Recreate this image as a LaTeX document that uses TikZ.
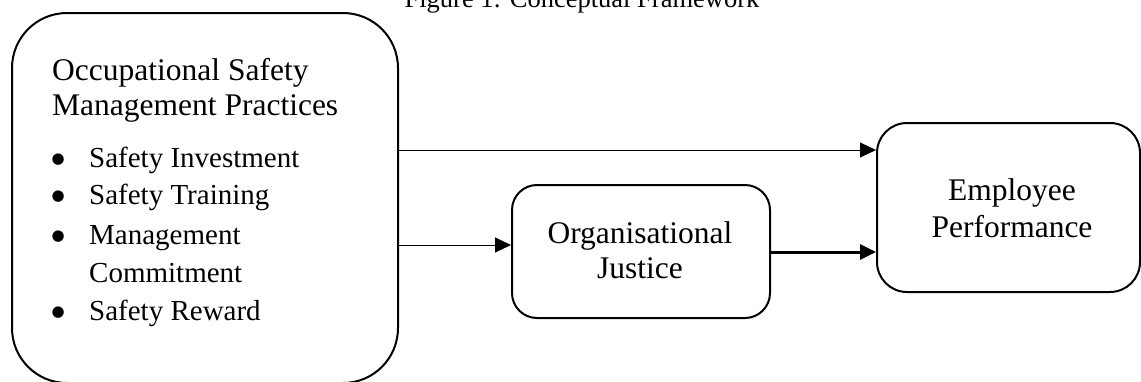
\documentclass[tikz,border=0pt]{standalone}
\usepackage{fontspec}
\setmainfont{Liberation Serif}
\newfontfamily\symfont{DejaVu Sans}
\usetikzlibrary{arrows.meta}
\newcommand{\bulletmark}{\makebox[0pt][c]{\raisebox{3.5pt}{\symfont\fontsize{15}{18}\selectfont ●}}\hspace*{31pt}}
\begin{document}
\begin{tikzpicture}[x=1pt,y=-1pt,
  boxstyle/.style={draw=black,line width=2pt,fill=none,inner sep=0pt},
  headtext/.style={inner sep=0pt,font=\fontsize{31.5}{36}\selectfont},
  itemtext/.style={inner sep=0pt,font=\fontsize{29}{34}\selectfont},
  titletext/.style={inner sep=0pt,font=\fontsize{26.5}{30}\selectfont},
  thinarrow/.style={line width=1pt,-{Triangle[length=16pt,width=15pt]}},
  thickarrow/.style={line width=3pt,-{Triangle[length=16pt,width=15pt]}}]
\useasboundingbox (0,0) rectangle (1141,381);
% title
\node[titletext,anchor=base] (title) at (582,7) {Figure 1: Conceptual Framework};
% boxes
\node[boxstyle,rounded corners=55pt,minimum width=386pt,minimum height=370pt] (osmp) at (205,198) {};
\node[boxstyle,rounded corners=25pt,minimum width=258pt,minimum height=133pt] (oj) at (641,251.5) {};
\node[boxstyle,rounded corners=30pt,minimum width=263pt,minimum height=169pt] (ep) at (1008.5,207.5) {};
% left box text
\node[headtext,anchor=base west] (h1) at (52,80) {Occupational Safety};
\node[headtext,anchor=base west] (h2) at (52,115) {Management Practices};
\node[itemtext,anchor=base west] (i1) at (58,167) {\bulletmark Safety Investment};
\node[itemtext,anchor=base west] (i2) at (58,204) {\bulletmark Safety Training};
\node[itemtext,anchor=base west] (i3) at (58,244) {\bulletmark Management};
\node[itemtext,anchor=base west] (i3b) at (89,282) {Commitment};
\node[itemtext,anchor=base west] (i4) at (58,320) {\bulletmark Safety Reward};
% middle text
\node[headtext,anchor=base] (oj1) at (640,243) {Organisational};
\node[headtext,anchor=base] (oj2) at (640,278) {Justice};
% right text
\node[headtext,anchor=base] (ep1) at (1012,200) {Employee};
\node[headtext,anchor=base] (ep2) at (1012,237) {Performance};
% connectors
\coordinate (ya) at (0,150);
\coordinate (yb) at (0,245);
\coordinate (yc) at (0,252);
\draw[thinarrow] (osmp.east |- ya) -- (ep.west |- ya);
\draw[thinarrow] (osmp.east |- yb) -- (oj.west |- yb);
\draw[thickarrow] (oj.east |- yc) -- (ep.west |- yc);
\end{tikzpicture}
\end{document}
